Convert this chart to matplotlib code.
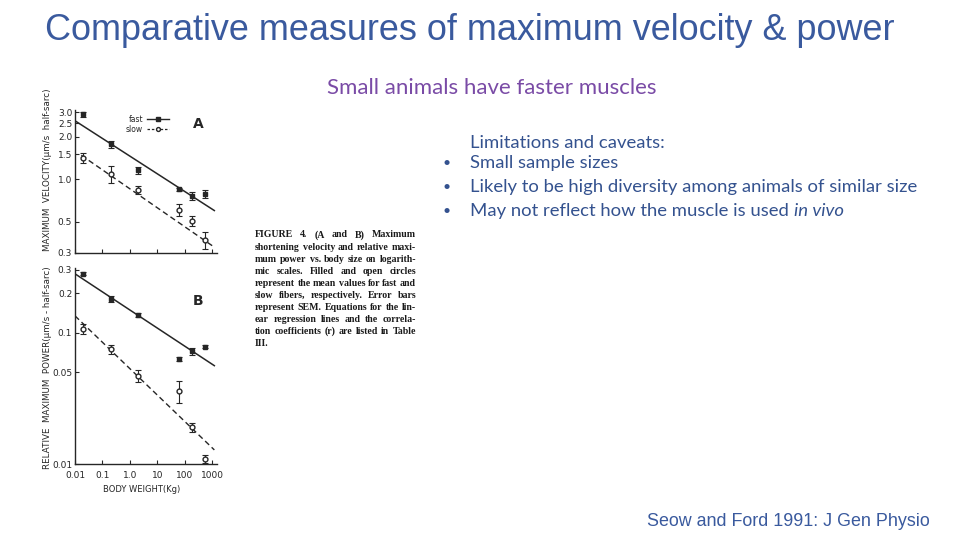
import numpy as np
import matplotlib
matplotlib.use("Agg")
import matplotlib.pyplot as plt
from matplotlib.ticker import FixedLocator, FixedFormatter, NullLocator

# =========================================================
# DADOS
# =========================================================
body_weight = [0.02, 0.2, 2, 60, 180, 550]

vel_fast = [2.9, 1.77, 1.16, 0.85, 0.76, 0.79]
vel_fast_err = [0.12, 0.1, 0.07, 0.02, 0.05, 0.05]
vel_slow = [1.42, 1.09, 0.84, 0.61, 0.51, 0.37]
vel_slow_err = [0.12, 0.15, 0.05, 0.06, 0.04, 0.05]

pow_fast = [0.28, 0.18, 0.136, 0.063, 0.072, 0.078]
pow_fast_err = [0.008, 0.01, 0.004, 0.002, 0.004, 0.002]
pow_slow = [0.107, 0.075, 0.047, 0.036, 0.019, 0.011]
pow_slow_err = [0.01, 0.006, 0.005, 0.007, 0.0015, 0.0008]

# linhas de regressão (extremos)
vel_fast_fit_x = [0.01, 1200]
vel_fast_fit_y = [2.6, 0.6]
vel_slow_fit_x = [0.017, 1200]
vel_slow_fit_y = [1.48, 0.33]
pow_fast_fit_x = [0.01, 1200]
pow_fast_fit_y = [0.28, 0.056]
pow_slow_fit_x = [0.01, 1200]
pow_slow_fit_y = [0.134, 0.0128]

vel_ticks = [0.3, 0.5, 1.0, 1.5, 2.0, 2.5, 3.0]
vel_tick_labels = ['0.3', '0.5', '1.0', '1.5', '2.0', '2.5', '3.0']
pow_ticks = [0.01, 0.05, 0.1, 0.2, 0.3]
pow_tick_labels = ['0.01', '0.05', '0.1', '0.2', '0.3']
x_ticks = [0.01, 0.1, 1, 10, 100, 1000]
x_tick_labels = ['0.01', '0.1', '1.0', '10', '100', '1000']

caption_lines = [
    "FIGURE 4. (A and B) Maximum",
    "shortening velocity and relative maxi-",
    "mum power vs. body size on logarith-",
    "mic scales. Filled and open circles",
    "represent the mean values for fast and",
    "slow fibers, respectively. Error bars",
    "represent SEM. Equations for the lin-",
    "ear regression lines and the correla-",
    "tion coefficients (r) are listed in Table",
    "III.",
]

bullets = [
    "Small sample sizes",
    "Likely to be high diversity among animals of similar size",
    None,  # última linha tem itálico, feita à parte
]

# =========================================================
# FIGURA
# =========================================================
W, H = 960, 540
fig = plt.figure(figsize=(9.6, 5.4), dpi=100)
fig.patch.set_facecolor('white')

def px_axes(x0, y_top, x1, y_bot):
    return fig.add_axes([x0 / W, 1 - y_bot / H, (x1 - x0) / W, (y_bot - y_top) / H])

ink = '#262626'
blue = '#34528F'

def style_ax(ax):
    ax.set_xscale('log')
    ax.set_yscale('log')
    ax.set_xlim(0.01, 1500)
    for s in ['top', 'right']:
        ax.spines[s].set_visible(False)
    for s in ['left', 'bottom']:
        ax.spines[s].set_color(ink)
        ax.spines[s].set_linewidth(1.0)
    ax.xaxis.set_major_locator(FixedLocator(x_ticks))
    ax.xaxis.set_minor_locator(NullLocator())
    ax.yaxis.set_minor_locator(NullLocator())
    ax.tick_params(direction='in', length=3, width=0.8, colors=ink,
                   labelsize=6.5, pad=2)
    ax.tick_params(axis='x', pad=5)

# ---------------- Painel A ----------------
axA = px_axes(75, 110, 217, 253)
style_ax(axA)
axA.set_ylim(0.3, 3.1)
axA.yaxis.set_major_locator(FixedLocator(vel_ticks))
axA.yaxis.set_major_formatter(FixedFormatter(vel_tick_labels))
axA.set_xticklabels([])

axA.plot(vel_fast_fit_x, vel_fast_fit_y, '-', color=ink, lw=1.1)
axA.plot(vel_slow_fit_x, vel_slow_fit_y, '--', color=ink, lw=1.0, dashes=(4, 2.5))
axA.errorbar(body_weight, vel_fast, yerr=vel_fast_err, fmt='s', ms=3.5,
             color=ink, mfc=ink, capsize=2, elinewidth=0.8, capthick=0.8)
axA.errorbar(body_weight, vel_slow, yerr=vel_slow_err, fmt='o', ms=3.5,
             color=ink, mfc='white', capsize=2, elinewidth=0.8, capthick=0.8)

# legenda desenhada à mão como no artigo
axA.text(0.48, 0.935, 'fast', transform=axA.transAxes, fontsize=5.5,
         color=ink, ha='right', va='center')
axA.plot([0.51, 0.66], [0.935, 0.935], '-', color=ink, lw=1.0, transform=axA.transAxes)
axA.plot([0.585], [0.935], 's', ms=2.8, color=ink, transform=axA.transAxes)
axA.text(0.48, 0.865, 'slow', transform=axA.transAxes, fontsize=5.5,
         color=ink, ha='right', va='center')
axA.plot([0.51, 0.66], [0.865, 0.865], '--', color=ink, lw=0.9, dashes=(2, 1.5),
         transform=axA.transAxes)
axA.plot([0.585], [0.865], 'o', ms=2.8, mfc='white', color=ink, transform=axA.transAxes)
axA.text(0.87, 0.9, 'A', transform=axA.transAxes, fontsize=10, fontweight='bold',
         color=ink, ha='center', va='center')

# ---------------- Painel B ----------------
axB = px_axes(75, 268, 217, 464)
style_ax(axB)
axB.set_ylim(0.01, 0.31)
axB.yaxis.set_major_locator(FixedLocator(pow_ticks))
axB.yaxis.set_major_formatter(FixedFormatter(pow_tick_labels))
axB.xaxis.set_major_formatter(FixedFormatter(x_tick_labels))

axB.plot(pow_fast_fit_x, pow_fast_fit_y, '-', color=ink, lw=1.1)
axB.plot(pow_slow_fit_x, pow_slow_fit_y, '--', color=ink, lw=1.0, dashes=(4, 2.5))
axB.errorbar(body_weight, pow_fast, yerr=pow_fast_err, fmt='s', ms=3.5,
             color=ink, mfc=ink, capsize=2, elinewidth=0.8, capthick=0.8)
axB.errorbar(body_weight, pow_slow, yerr=pow_slow_err, fmt='o', ms=3.5,
             color=ink, mfc='white', capsize=2, elinewidth=0.8, capthick=0.8)
axB.text(0.87, 0.83, 'B', transform=axB.transAxes, fontsize=10, fontweight='bold',
         color=ink, ha='center', va='center')

fig.text(142 / W, 1 - 489 / H, 'BODY WEIGHT(Kg)', fontsize=6, color=ink,
         ha='center', va='center')
fig.text(48 / W, 1 - 170 / H, 'MAXIMUM  VELOCITY(μm/s  half-sarc)', fontsize=6.3,
         color=ink, rotation=90, ha='center', va='center')
fig.text(48 / W, 1 - 368 / H, 'RELATIVE  MAXIMUM  POWER(μm/s - half-sarc)',
         fontsize=6.3, color=ink, rotation=90, ha='center', va='center')

# ---------------- Legenda da figura (justificada) ----------------
renderer = fig.canvas.get_renderer()
cap_left, cap_right = 255, 416
cap_kw = dict(fontsize=7.1, family='Liberation Serif', fontweight='bold',
              color='#1a1a1a', ha='left', va='center')
for i, line in enumerate(caption_lines):
    y = 1 - (235 + 12 * i) / H
    words = line.split(' ')
    if i == len(caption_lines) - 1 or len(words) == 1:
        fig.text(cap_left / W, y, line, **cap_kw)
        continue
    objs = [fig.text(0, y, w, **cap_kw) for w in words]
    widths = [o.get_window_extent(renderer).width for o in objs]
    gap = (cap_right - cap_left - sum(widths)) / (len(words) - 1)
    x = cap_left
    for o, w in zip(objs, widths):
        o.set_x(x / W)
        x += w + gap

# ---------------- Textos do slide ----------------
fig.text(45 / W, 1 - 31 / H, 'Comparative measures of maximum velocity & power',
         fontsize=25.9, family='Liberation Sans', color='#3A5A9E', ha='left', va='center')
fig.text(492 / W, 1 - 88 / H, 'Small animals have faster muscles', fontsize=16,
         family='Lato', color='#7A4BA6', ha='center', va='center')

fig.text(470 / W, 1 - 143 / H, 'Limitations and caveats:', fontsize=13.3,
         family='Lato', color=blue, ha='left', va='center')
bullet_y = [163, 187, 211]
for y, b in zip(bullet_y, bullets):
    fig.text(443 / W, 1 - y / H, '•', fontsize=10, family='Lato', color=blue,
             ha='left', va='center')
    if b is not None:
        fig.text(470 / W, 1 - y / H, b, fontsize=13.3, family='Lato', color=blue,
                 ha='left', va='center')
t = fig.text(470 / W, 1 - 211 / H, 'May not reflect how the muscle is used ',
             fontsize=13.3, family='Lato', color=blue, ha='left', va='center')
bb = t.get_window_extent(renderer)
fig.text(bb.x1 / W, 1 - 211 / H, 'in vivo', fontsize=13.3, family='Lato',
         style='italic', color=blue, ha='left', va='center')

fig.text(930 / W, 1 - 521 / H, 'Seow and Ford 1991: J Gen Physio', fontsize=12.9,
         family='Liberation Sans', color='#3A5A9E', ha='right', va='center')

fig.savefig('out.png', dpi=100)
